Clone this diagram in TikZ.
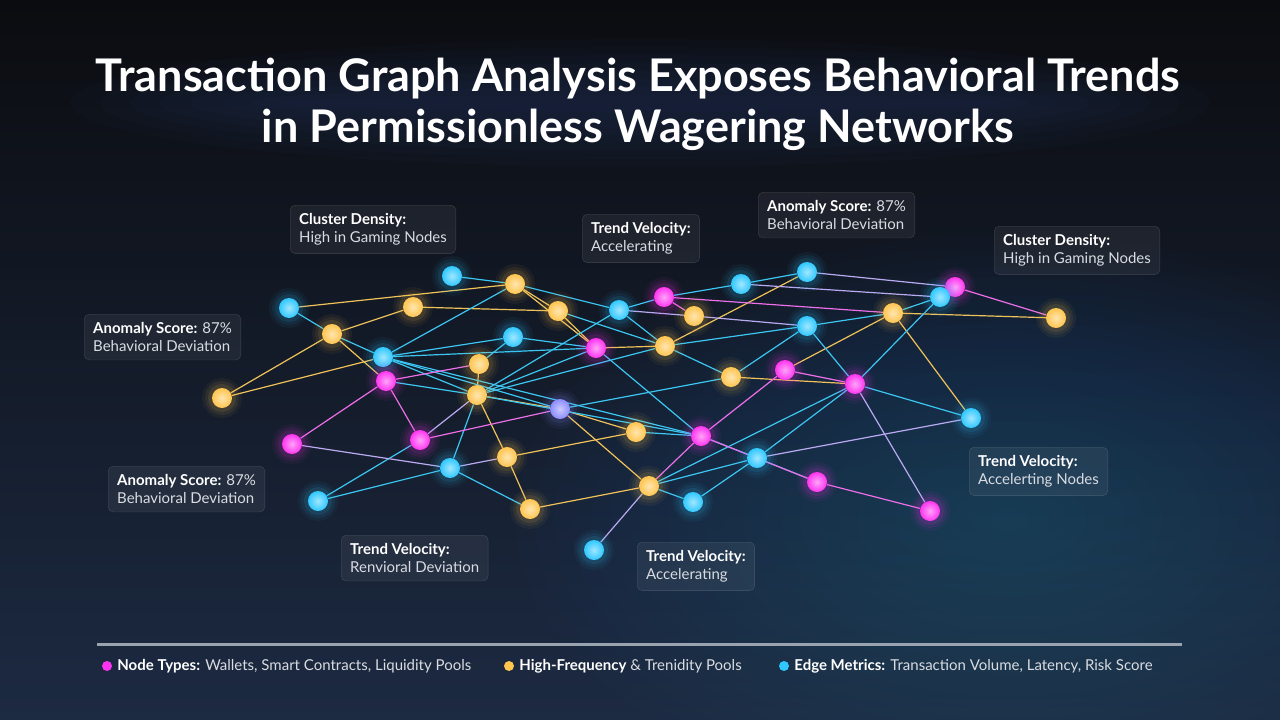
\documentclass[tikz,border=0pt]{standalone}
\usepackage{fontspec}
\setmainfont{Lato}
\usetikzlibrary{positioning}

\definecolor{cyanN}{HTML}{2FC8FF}
\definecolor{goldN}{HTML}{FFC54F}
\definecolor{pinkN}{HTML}{FF34F0}
\definecolor{violN}{HTML}{8C8CFF}
\definecolor{cyanE}{HTML}{3CC6F2}
\definecolor{goldE}{HTML}{F0C25A}
\definecolor{pinkE}{HTML}{EC6EE8}
\definecolor{lilacE}{HTML}{B9AAF2}
\definecolor{bgtop}{HTML}{0B0C10}
\definecolor{bgmid}{HTML}{10141C}
\definecolor{bgbot}{HTML}{1C2A42}
\definecolor{glowblue}{HTML}{3A6794}
\definecolor{titleglow}{HTML}{3F6FD8}
\definecolor{subtext}{HTML}{D9DCE2}
\definecolor{ruleline}{HTML}{9AA3B0}

\pgfdeclarelayer{back}
\pgfdeclarelayer{edges}
\pgfsetlayers{back,edges,main}

\begin{document}
\begin{tikzpicture}[x=1pt, y=-1pt,
  dot/.style={circle, inner sep=0pt, minimum size=20pt,
    inner color=#1!45!white, outer color=#1,
    preaction={draw=#1, draw opacity=0.05, line width=20pt},
    preaction={draw=#1, draw opacity=0.07, line width=14pt},
    preaction={draw=#1, draw opacity=0.1, line width=8pt}},
  eCyan/.style={draw=cyanE, line width=1.2pt},
  eGold/.style={draw=goldE, line width=1.2pt},
  ePink/.style={draw=pinkE, line width=1.2pt},
  eLilac/.style={draw=lilacE, line width=1.2pt},
  tag/.style={anchor=north west, draw=white, draw opacity=0.16, fill=white,
    fill opacity=0.06, text opacity=1, text=white, rounded corners=5pt,
    align=left, inner xsep=9pt, inner ysep=8pt,
    font=\fontsize{15}{18.5}\selectfont},
  title/.style={align=center, font=\fontsize{45}{51}\selectfont\bfseries},
  keydot/.style={circle, inner sep=0pt, minimum size=10pt, fill=#1},
  keytxt/.style={text=subtext, inner sep=0pt, font=\fontsize{15}{18}\selectfont}]

\useasboundingbox (0,0) rectangle (1280,720);

% background
\begin{pgfonlayer}{back}
  \shade[top color=bgtop, middle color=bgmid, bottom color=bgbot] (0,0) rectangle (1280,720);
  \foreach \s in {1,...,26}
    \fill[glowblue, opacity=0.025] (1010,520) ellipse ({\s*19pt} and {\s*11pt});
  \foreach \s in {1,...,8}
    \fill[titleglow, opacity=0.025] (640,103) ellipse ({330pt+\s*30pt} and {\s*8pt});
\end{pgfonlayer}

% title
\node[title, text=white] (head) at (638,104)
  {Transaction Graph Analysis Exposes Behavioral Trends\\in Permissionless Wagering Networks};

% cyan nodes
\node[dot=cyanN] (c1) at (452,276) {};
\node[dot=cyanN] (c2) at (289,308) {};
\node[dot=cyanN] (c3) at (383,357) {};
\node[dot=cyanN] (c4) at (513,337) {};
\node[dot=cyanN] (c5) at (619,310) {};
\node[dot=cyanN] (c6) at (741,284) {};
\node[dot=cyanN] (c7) at (807,272) {};
\node[dot=cyanN] (c8) at (807,326) {};
\node[dot=cyanN] (c10) at (971,418) {};
\node[dot=cyanN] (c11) at (757,458) {};
\node[dot=cyanN] (c12) at (450,468) {};
\node[dot=cyanN] (c13) at (318,501) {};
\node[dot=cyanN] (c14) at (693,502) {};
\node[dot=cyanN] (c15) at (594,550) {};
\node[dot=violN] (v1) at (560,409) {};

% gold nodes
\node[dot=goldN] (y1) at (515,284) {};
\node[dot=goldN] (y2) at (413,307) {};
\node[dot=goldN] (y3) at (558,311) {};
\node[dot=goldN] (y4) at (332,334) {};
\node[dot=goldN] (y5) at (222,398) {};
\node[dot=goldN] (y6) at (479,364) {};
\node[dot=goldN] (y7) at (477,395) {};
\node[dot=goldN] (y8) at (694,316) {};
\node[dot=goldN] (y9) at (665,346) {};
\node[dot=goldN] (y10) at (893,313) {};
\node[dot=goldN] (y11) at (1056,318) {};
\node[dot=goldN] (y12) at (731,377) {};
\node[dot=goldN] (y13) at (636,432) {};
\node[dot=goldN] (y14) at (507,457) {};
\node[dot=goldN] (y15) at (530,509) {};
\node[dot=goldN] (y16) at (649,486) {};

% magenta nodes
\node[dot=pinkN] (m1) at (664,297) {};
\node[dot=pinkN] (m2) at (955,287) {};
\node[dot=cyanN] (c9) at (940,297) {};
\node[dot=pinkN] (m3) at (596,348) {};
\node[dot=pinkN] (m4) at (386,381) {};
\node[dot=pinkN] (m5) at (785,370) {};
\node[dot=pinkN] (m6) at (855,384) {};
\node[dot=pinkN] (m7) at (292,444) {};
\node[dot=pinkN] (m8) at (420,440) {};
\node[dot=pinkN] (m9) at (701,436) {};
\node[dot=pinkN] (m10) at (817,482) {};
\node[dot=pinkN] (m11) at (930,511) {};

% connectors
\begin{pgfonlayer}{edges}
  \foreach \a/\b in {c2/y1, y2/y3, y4/y2, y5/y4, y5/c3, y4/m4, y1/y3, y1/m3,
      y9/c7, y10/y11, y10/c10, y10/m5, y12/m6, y7/v1, y6/y7, y7/y14,
      y14/y15, y14/y13, y15/y16, v1/y16, m3/y9, v1/y13, y3/m3}
    \draw[eGold] (\a) -- (\b);
  \foreach \a/\b in {c1/y1, c2/y4, y4/c3, c3/y1, c3/c4, c3/m3, c3/y7, c3/v1,
      c4/y6, c4/m3, y1/c5, c5/m1, m1/c6, c6/c7, c5/y9, c5/y7, y9/c8, c8/y10,
      c9/y10, c9/m6, c8/m6, m6/c10, m6/c11, m6/y16, c11/y16, c11/c14,
      y16/c14, m3/m9, v1/y12, y9/y12, y12/c8, y13/m9, y7/m9, m4/y7, m8/c13,
      c13/c12, c12/y7, c12/y15, y3/y9, y7/m3, y7/y9, c11/m10, m9/c11, c3/m9}
    \draw[eCyan] (\a) -- (\b);
  \foreach \a/\b in {m4/y6, m4/m8, m4/m7, m8/v1, y16/m9, m9/m5, m5/m6,
      m9/m10, m10/m11, m1/y8, m2/y11, m1/y10}
    \draw[ePink] (\a) -- (\b);
  \foreach \a/\b in {y8/c8, c6/c9, c7/m2, m6/m11, c10/c11, m7/c12, m8/y7,
      c12/y14, y16/c15, c5/y8}
    \draw[eLilac] (\a) -- (\b);
\end{pgfonlayer}

% callouts
\node[tag] (dens1) at (290,205) {\textbf{Cluster Density:}\\{\color{subtext}High in Gaming Nodes}};
\node[tag] (velo1) at (582,214) {\textbf{Trend Velocity:}\\{\color{subtext}Accelerating}};
\node[tag] (anom1) at (758,192) {\textbf{Anomaly Score:} {\color{subtext}87\%}\\{\color{subtext}Behavioral Deviation}};
\node[tag] (dens2) at (994,226) {\textbf{Cluster Density:}\\{\color{subtext}High in Gaming Nodes}};
\node[tag] (anom2) at (84,314) {\textbf{Anomaly Score:} {\color{subtext}87\%}\\{\color{subtext}Behavioral Deviation}};
\node[tag] (anom3) at (108,466) {\textbf{Anomaly Score:} {\color{subtext}87\%}\\{\color{subtext}Behavioral Deviation}};
\node[tag] (velo2) at (341,535) {\textbf{Trend Velocity:}\\{\color{subtext}Renvioral Deviation}};
\node[tag] (velo3) at (637,542) {\textbf{Trend Velocity:}\\{\color{subtext}Accelerating}};
\node[tag] (velo4) at (969,447) {\textbf{Trend Velocity:}\\{\color{subtext}Accelerting Nodes}};

% legend
\coordinate (ruleL) at (97,644);
\coordinate (ruleR) at (1182,644);
\draw[ruleline, line width=3pt] (ruleL) -- (ruleR);
\node[keydot=pinkN] (k1) at (107,666) {};
\node[keytxt, right=5pt of k1] (t1) {\textbf{\color{white}Node Types:} Wallets, Smart Contracts, Liquidity Pools};
\node[keydot=goldN] (k2) at (509,666) {};
\node[keytxt, right=5pt of k2] (t2) {\textbf{\color{white}High-Frequency} \& Trenidity Pools};
\node[keydot=cyanN] (k3) at (784,666) {};
\node[keytxt, right=5pt of k3] (t3) {\textbf{\color{white}Edge Metrics:} Transaction Volume, Latency, Risk Score};
\end{tikzpicture}
\end{document}
